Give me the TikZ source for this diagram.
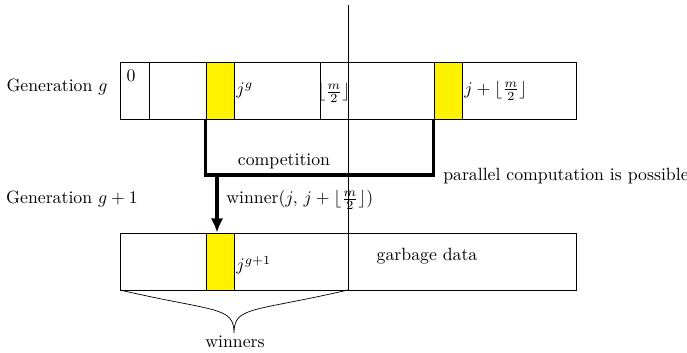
\documentclass[tikz,border=0pt]{standalone}
\usepackage{amsmath, amssymb}
\usetikzlibrary{arrows.meta}

\begin{document}
\begin{tikzpicture}[x=0.0198cm, y=-0.0198cm, >=Latex, every node/.style={font=\normalsize}]
      \useasboundingbox (0,0) rectangle (687,352);
      \tikzset{win/.style={draw, fill=yellow, minimum width=0.554cm, minimum height=1.129cm, inner sep=0pt}}

      % generation g
      \draw (120,62) rectangle (576,119);
      \draw (149,62) -- (149,119);
      \draw (320,62) -- (320,119);
      \node[win] (y1) at (220,90.5) {};
      \node[win] (y2) at (448,90.5) {};
      \node (zero) at (131,76) {$0$};
      \node[anchor=west, inner sep=1pt] (jg) at (y1.east) {$j^g$};
      \node (half) at (334,93) {$\lfloor\frac{m}{2}\rfloor$};
      \node[anchor=west, inner sep=1pt] (jm) at (y2.east) {$j+\lfloor\frac{m}{2}\rfloor$};

      % generation g+1
      \draw (120,233) rectangle (576,290);
      \node[win] (y3) at (220,261.5) {};
      \node[anchor=west, inner sep=1pt] (jg1) at ([yshift=-2pt]y3.east) {$j^{g+1}$};
      \node (garbage) at (427,256) {garbage data};

      \draw (348,5) -- (348,290);

      \node (gen1) at (57,87) {Generation $g$};
      \node (gen2) at (72,199) {Generation $g+1$};

      % competition
      \coordinate (c1) at (y1.south west |- 0,175);
      \coordinate (c2) at (y2.south west |- 0,175);
      \draw[line width=1.8pt] (y1.south west) -- (c1) -- (c2) -- (y2.south west);
      \node (comp) at (284,161) {competition};
      \node[anchor=west] (par) at (437,176) {parallel computation is possible};
      \coordinate (a1) at (217,175);
      \draw[->, line width=1.8pt, -{Latex[length=8pt, width=7pt]}] (a1) -- (a1 |- y3.north);
      \node[anchor=west] (wlab) at (220,200) {winner$(j,\, j+\lfloor\frac{m}{2}\rfloor)$};

      % winners
      \coordinate (b1) at (120,290);
      \coordinate (b2) at (348,290);
      \coordinate (tip) at (234,333);
      \draw (b1) .. controls (215,312) and (234,306) .. (tip)
            (tip) .. controls (234,306) and (253,312) .. (b2);
      \node (winners) at (235,342) {winners};
    \end{tikzpicture}
\end{document}
